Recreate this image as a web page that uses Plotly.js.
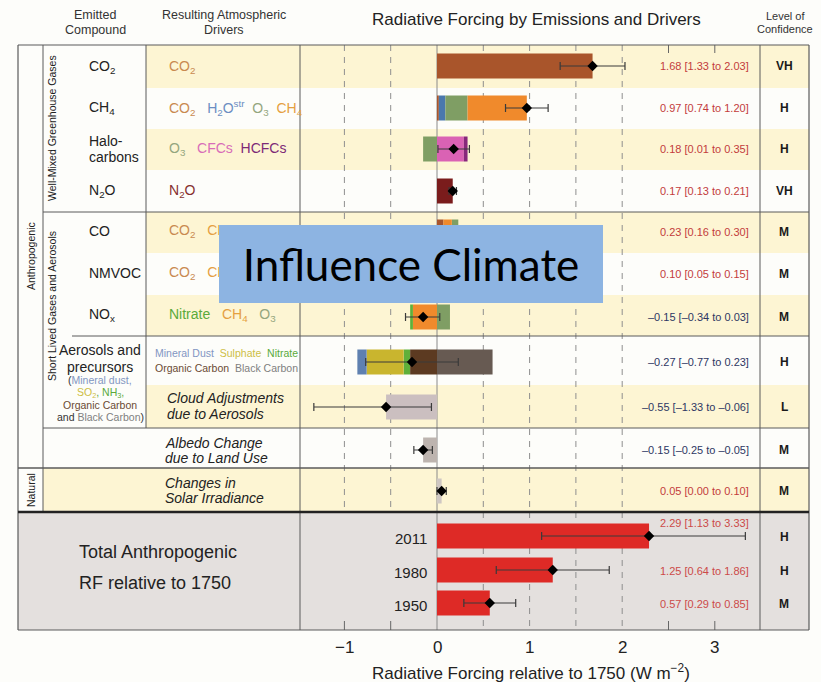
<!DOCTYPE html>
<html><head><meta charset="utf-8">
<script src="https://cdn.plot.ly/plotly-3.0.1.min.js"></script>
<style>html,body{margin:0;padding:0;background:#fdfdfa;}#chart{width:821px;height:682px;}</style>
</head><body><div id="chart"></div>
<script>
// ---------------- data ----------------
const rowNames = ["CO2","CH4","Halocarbons","N2O","CO","NMVOC","NOx","Aerosols","Cloud adjustments","Albedo","Solar"];
const bestRF = [1.68,0.97,0.18,0.17,0.23,0.10,-0.15,-0.27,-0.55,-0.15,0.05];
const lowRF  = [1.33,0.74,0.01,0.13,0.16,0.05,-0.34,-0.77,-1.33,-0.25,0.00];
const highRF = [2.03,1.20,0.35,0.21,0.30,0.15,0.03,0.23,-0.06,-0.05,0.10];
const confidence = ["VH","H","H","VH","M","M","M","H","L","M","M"];

// driver components per row, listed outward from zero
const partsCO2    = [["CO2",1.68]];
const partsCH4    = [["CO2",0.02],["H2Ostr",0.07],["O3",0.24],["CH4",0.64]];
const partsHalo   = [["CFCs",0.29],["HCFCs",0.04],["O3",-0.15]];
const partsN2O    = [["N2O",0.17]];
const partsCO     = [["CO2",0.07],["CH4",0.09],["O3",0.07]];
const partsNMVOC  = [["CO2",0.03],["CH4",0.02],["O3",0.05]];
const partsNOx    = [["CH4",-0.26],["Nitrate",-0.03],["O3",0.14]];
const partsAer    = [["OrganicC",-0.29],["Nitrate",-0.07],["Sulphate",-0.40],["Dust",-0.10],["BlackC",0.60]];
const partsCloud  = [["Cloud",-0.55]];
const partsAlbedo = [["Albedo",-0.15]];
const partsSolar  = [["Solar",0.05]];

const totalYears = ["2011","1980","1950"];
const totalBest  = [2.29,1.25,0.57];
const totalLow   = [1.13,0.64,0.29];
const totalHigh  = [3.33,1.86,0.85];
const totalConf  = ["H","H","M"];

const xTickVals = [-1,0,1,2,3];
const xTickText = ["\u22121","0","1","2","3"];

// ---------------- layout constants ----------------
const W=821,H=682, PL=18, PR=809, PT=45, PB=630;
const ZERO_PX=437, PX_PER_UNIT=92.6;
const X  = px => (px-ZERO_PX)/PX_PER_UNIT;   // pixel -> data x
const PXp = px => (px-PL)/(PR-PL);            // pixel -> paper x
const PYp = py => (PB-py)/(PB-PT);            // pixel -> paper y
const rowBounds  = [45,88,129,170,212,253,295,336,385,428,468,512];
const rowCenters = [66,108,149,191,232,274,317,362,407,450,491];
const totalCenters = [536,570,603];
const totalValueY  = [523,571,604];
const barH = 25;
const FONT = "'Liberation Sans', Arial, sans-serif";

const partColor = {CO2:"#A9552B", H2Ostr:"#4A78AC", O3:"#7F9E64", CH4:"#F08A2C", CFCs:"#DA62B4",
  HCFCs:"#87287B", N2O:"#7A1C1C", Nitrate:"#5FB03A", Dust:"#5F80B0", Sulphate:"#C9B52E",
  OrganicC:"#5C3A21", BlackC:"#675A52", Cloud:"#CBBFC0", Albedo:"#BDB4AF", Solar:"#CFC7C3"};

// ---------------- traces ----------------
const traces = [];
const allParts = [partsCO2,partsCH4,partsHalo,partsN2O,partsCO,partsNMVOC,partsNOx,partsAer,partsCloud,partsAlbedo,partsSolar];
const segs = {};
allParts.forEach((parts, r) => {
  let pos = 0, neg = 0;
  parts.forEach(([name, v]) => {
    const base = v >= 0 ? pos : neg;
    if (v >= 0) pos += v; else neg += v;
    segs[name] = segs[name] || {x:[], y:[], base:[]};
    segs[name].x.push(v); segs[name].y.push(rowCenters[r]); segs[name].base.push(base);
  });
});
Object.keys(segs).forEach(name => traces.push({
  type:'bar', orientation:'h', name, x:segs[name].x, y:segs[name].y, base:segs[name].base,
  width:barH, marker:{color:partColor[name], line:{width:0}}, hoverinfo:'skip'
}));
traces.push({type:'bar', orientation:'h', name:'Total', x:totalBest, y:totalCenters, base:totalBest.map(()=>0),
  width:barH, marker:{color:"#DE2A26", line:{width:0}}, hoverinfo:'skip'});

const errTrace = (best, low, high, ys) => ({
  type:'scatter', mode:'markers', x:best, y:ys, hoverinfo:'skip',
  marker:{symbol:'diamond', size:8, color:'#000'},
  error_x:{type:'data', symmetric:false, array:high.map((h,i)=>+(h-best[i]).toFixed(3)),
    arrayminus:low.map((l,i)=>+(best[i]-l).toFixed(3)), color:'#3a3a3a', thickness:1.2, width:4}
});
traces.push(errTrace(bestRF, lowRF, highRF, rowCenters));
traces.push(errTrace(totalBest, totalLow, totalHigh, totalCenters));

// ---------------- shapes ----------------
const shapes = [];
const line = (x0,y0,x1,y1,color,width,layer,dash) => shapes.push({type:'line', xref:'paper', yref:'paper',
  x0:PXp(x0), x1:PXp(x1), y0:PYp(y0), y1:PYp(y1), line:{color, width, dash:dash||'solid'}, layer:layer||'above'});
const rect = (x0,y0,x1,y1,fill) => shapes.push({type:'rect', xref:'paper', yref:'paper',
  x0:PXp(x0), x1:PXp(x1), y0:PYp(y0), y1:PYp(y1), fillcolor:fill, line:{width:0}, layer:'below'});

const YEL = "#FDF5D3";
[0,2,4,6,8].forEach(r => rect(146, rowBounds[r], PR, rowBounds[r+1], YEL));
rect(43, rowBounds[10], PR, rowBounds[11], YEL);
rect(PL, 512, PR, PB, "#E4E0DE");

const vline = (xv, y0, y1, color, width, dash, layer) => shapes.push({type:'line', xref:'x', yref:'paper',
  x0:xv, x1:xv, y0:PYp(y0), y1:PYp(y1), line:{color, width, dash:dash||'solid'}, layer:layer||'below'});
[-1,-0.5,0.5,1,1.5,2].forEach(g => vline(g, 45, 512, "#8E8E8E", 1, "6px,6px"));
[0.5,1,1.5,2].forEach(g => vline(g, 512, 630, "#8E8E8E", 1, "6px,6px"));
vline(0, 45, 630, "#8A8A8A", 1);
[2.5,3].forEach(g => vline(g, 45, 53, "#666", 1));
[-1,-0.5,2.5,3].forEach(g => vline(g, 621, 630, "#666", 1));

const LC = "#5a5a5a";
line(PL,45,PR,45,LC,1.2); line(PL,630,PR,630,LC,1.2);
line(PL,45,PL,630,LC,1.2); line(PR,45,PR,630,LC,1.2);
line(43,45,43,512,LC,1);
line(146,45,146,428,LC,1);
line(300,45,300,630,LC,1);
line(760,45,760,630,LC,1);
line(43,212,PR,212,LC,1);
line(72,336,PR,336,LC,1);
line(43,428,PR,428,LC,1);
line(PL,468,PR,468,LC,1.4);
line(PL,512,PR,512,"#222",2.4);

// ---------------- annotations ----------------
const ann = [];
const txt = (x, y, text, o) => { o = o||{}; ann.push({xref:'paper', yref:'paper', x:PXp(x), y:PYp(y),
  text, showarrow:false, xanchor:o.anchor||'left', yanchor:'middle',
  font:{family:FONT, size:o.size||14, color:o.color||'#222'}, textangle:o.angle||0}); };

// headers
txt(95,15,"Emitted",{anchor:'center',size:12.5,color:'#333'});
txt(95,30,"Compound",{anchor:'center',size:12.5,color:'#333'});
txt(224,15,"Resulting Atmospheric",{anchor:'center',size:12.5,color:'#333'});
txt(224,30,"Drivers",{anchor:'center',size:12.5,color:'#333'});
txt(536,20,"Radiative Forcing by Emissions and Drivers",{anchor:'center',size:17,color:'#222'});
txt(785,16,"Level of",{anchor:'center',size:11,color:'#333'});
txt(785,29,"Confidence",{anchor:'center',size:11,color:'#333'});

// vertical group labels
txt(31,256,"Anthropogenic",{anchor:'center',size:10.5,angle:-90});
txt(52,128,"Well-Mixed Greenhouse Gases",{anchor:'center',size:10.5,angle:-90});
txt(52,306,"Short Lived Gases and Aerosols",{anchor:'center',size:10.5,angle:-90});
txt(31,490,"Natural",{anchor:'center',size:10.5,angle:-90});

// compound labels
const NB = "\u00A0";
txt(87,67,"CO<sub>2</sub>");
txt(87,108,"CH<sub>4</sub>");
txt(87,141,"Halo-");
txt(87,157,"carbons");
txt(87,191,"N<sub>2</sub>O");
txt(87,231,"CO");
txt(87,273,"NMVOC");
txt(87,315,"NO<sub>x</sub>");
txt(100,350,"Aerosols and",{anchor:'center',size:14});
txt(100,367,"precursors",{anchor:'center',size:14});

const C = {co2:"#C98A50", h2o:"#6C8EC2", o3:"#94A67E", ch4:"#E5A041", cfc:"#D86DB8", hcfc:"#7D2A77",
  n2o:"#86302F", nitrate:"#5AAA3B", sulph:"#CDBE45", dust:"#8296C2", oc:"#6A4A33", bc:"#808080"};
const sp = (c,t) => `<span style="color:${c}">${t}</span>`;
txt(100,380,"("+sp(C.dust,"Mineral dust,"),{anchor:'center',size:10.5,color:'#333'});
txt(100,393,sp(C.sulph,"SO<sub>2</sub>")+sp(C.nitrate,","+NB+"NH<sub>3</sub>,"),{anchor:'center',size:10.5});
txt(100,405,sp(C.oc,"Organic Carbon"),{anchor:'center',size:10.5});
txt(100,417,"and "+sp(C.bc,"Black Carbon")+")",{anchor:'center',size:10.5,color:'#333'});

// driver labels
const D = NB+NB+NB;
txt(167,67,sp(C.co2,"CO<sub>2</sub>"));
txt(167,108,sp(C.co2,"CO<sub>2</sub>")+D+sp(C.h2o,"H<sub>2</sub>O<sup>str</sup>")+NB+NB+sp(C.o3,"O<sub>3</sub>")+NB+NB+sp(C.ch4,"CH<sub>4</sub>"));
txt(167,149,sp(C.o3,"O<sub>3</sub>")+D+sp(C.cfc,"CFCs")+NB+NB+sp(C.hcfc,"HCFCs"));
txt(167,191,sp(C.n2o,"N<sub>2</sub>O"));
txt(167,231,sp(C.co2,"CO<sub>2</sub>")+D+sp(C.ch4,"CH<sub>4</sub>")+D+sp(C.o3,"O<sub>3</sub>"));
txt(167,273,sp(C.co2,"CO<sub>2</sub>")+D+sp(C.ch4,"CH<sub>4</sub>")+D+sp(C.o3,"O<sub>3</sub>"));
txt(167,315,sp(C.nitrate,"Nitrate")+D+sp(C.ch4,"CH<sub>4</sub>")+D+sp(C.o3,"O<sub>3</sub>"));
txt(153,353,sp(C.dust,"Mineral Dust")+NB+NB+sp(C.sulph,"Sulphate")+NB+NB+sp(C.nitrate,"Nitrate"),{size:10.5});
txt(153,368,sp(C.oc,"Organic Carbon")+NB+NB+sp(C.bc,"Black Carbon"),{size:10.5});
txt(165,398,"<i>Cloud Adjustments</i>");
txt(165,414,"<i>due to Aerosols</i>");
txt(163,443,"<i>Albedo Change</i>");
txt(163,458,"<i>due to Land Use</i>");
txt(163,483,"<i>Changes in</i>");
txt(163,498,"<i>Solar Irradiance</i>");

// total panel labels
txt(77,552,"Total Anthropogenic",{size:18});
txt(77,583,"RF relative to 1750",{size:18});
totalYears.forEach((yr,i) => ann.push({xref:'x', yref:'y', x:X(429), y:totalCenters[i]+2, text:yr, showarrow:false,
  xanchor:'right', yanchor:'middle', font:{family:FONT, size:15, color:'#222'}}));

// value labels and confidence (from data)
const f = v => (v<0?"\u2013":"") + Math.abs(v).toFixed(2);
const valText = (b,l,h) => `${f(b)} [${f(l)} to ${f(h)}]`;
const VFONT = "'Liberation Sans Narrow', 'Liberation Sans', Arial, sans-serif";
bestRF.forEach((b,i) => {
  ann.push({xref:'x', yref:'y', x:X(751), y:rowCenters[i], text:valText(b,lowRF[i],highRF[i]), showarrow:false,
    xanchor:'right', yanchor:'middle', font:{family:VFONT, size:11, color: b>0?"#C33C3C":"#2E3763"}});
  ann.push({xref:'x', yref:'y', x:X(784), y:rowCenters[i], text:confidence[i], showarrow:false,
    xanchor:'center', yanchor:'middle', font:{family:FONT, size:12, color:'#1a1a1a', weight:700}});
});
totalBest.forEach((b,i) => {
  ann.push({xref:'x', yref:'y', x:X(751), y:totalValueY[i], text:valText(b,totalLow[i],totalHigh[i]), showarrow:false,
    xanchor:'right', yanchor:'middle', font:{family:VFONT, size:11, color:"#CC4A48"}});
  ann.push({xref:'x', yref:'y', x:X(784), y:totalCenters[i]+1, text:totalConf[i], showarrow:false,
    xanchor:'center', yanchor:'middle', font:{family:FONT, size:12, color:'#1a1a1a', weight:700}});
});

// axis tick labels and title
xTickVals.forEach((v,i) => ann.push({xref:'x', yref:'paper', x:v, y:PYp(648), text:xTickText[i], showarrow:false,
  xanchor:'center', yanchor:'middle', font:{family:FONT, size:17, color:'#222'}}));
ann.push({xref:'x', yref:'paper', x:X(531), y:PYp(672), text:"Radiative Forcing relative to 1750 (W m<sup>\u22122</sup>)",
  showarrow:false, xanchor:'center', yanchor:'middle', font:{family:FONT, size:17, color:'#222'}});

// overlay caption box
ann.push({xref:'paper', yref:'paper', x:PXp(411), y:PYp(264), xanchor:'center', yanchor:'middle',
  width:384, height:78, bgcolor:'#8DB4E2', borderpad:0, borderwidth:0, showarrow:false,
  text:'Influence Climate', font:{family:'Lato, "Open Sans", sans-serif', size:44, color:'#000'}});

const layout = {
  width:W, height:H, margin:{l:PL, r:W-PR, t:PT, b:H-PB, pad:0},
  paper_bgcolor:'#FDFDFA', plot_bgcolor:'rgba(0,0,0,0)', barmode:'overlay', showlegend:false,
  font:{family:FONT},
  xaxis:{range:[X(PL), X(PR)], showgrid:false, zeroline:false, showticklabels:false, ticks:'', showline:false, fixedrange:true},
  yaxis:{range:[PB, PT], showgrid:false, zeroline:false, showticklabels:false, ticks:'', showline:false, fixedrange:true},
  shapes, annotations:ann
};
Plotly.newPlot('chart', traces, layout, {staticPlot:true, displayModeBar:false});
</script></body></html>
